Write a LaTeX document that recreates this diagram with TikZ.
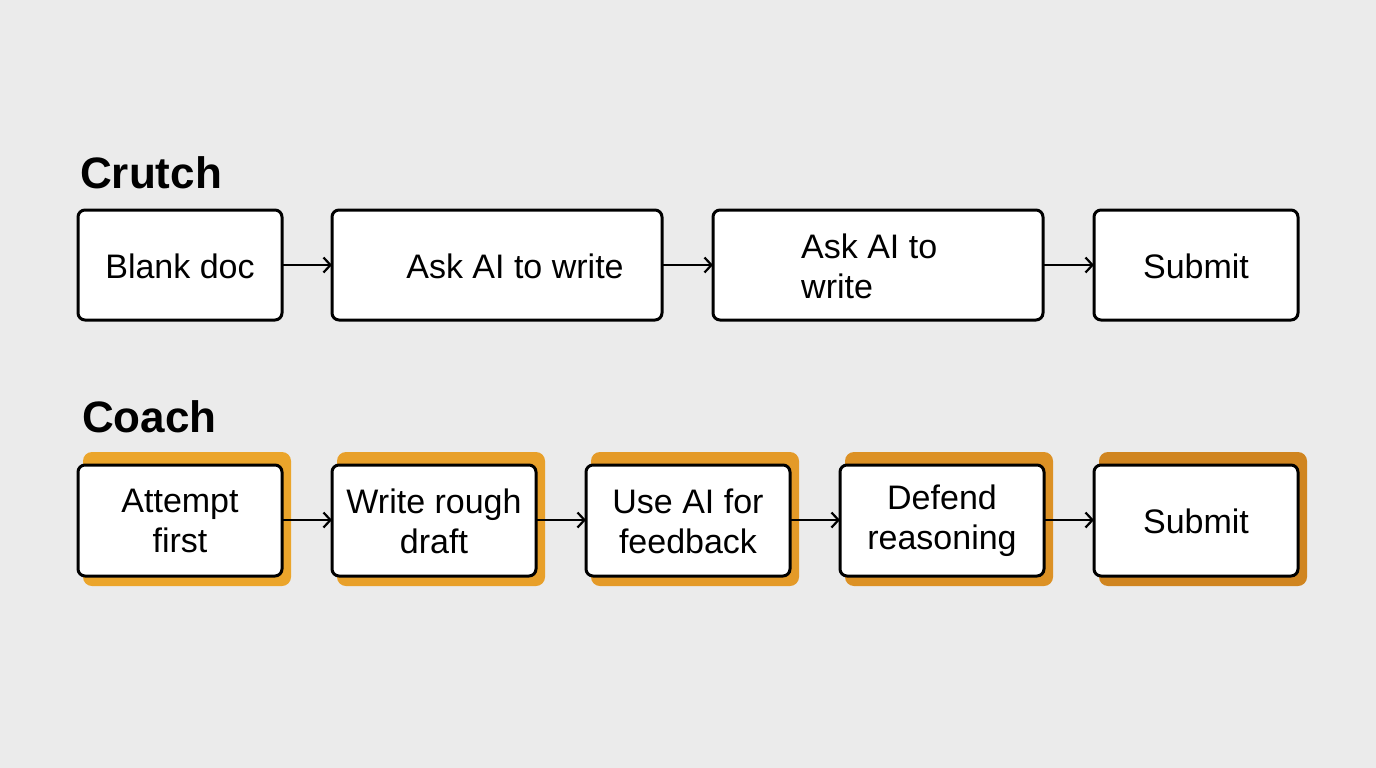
\documentclass[tikz,border=0pt]{standalone}
\usepackage{fontspec}
\setmainfont{Liberation Sans}
\usetikzlibrary{arrows.meta}
\definecolor{bg}{HTML}{EBEBEB}
\definecolor{o1}{HTML}{EBA52B}
\definecolor{o2}{HTML}{E8A02A}
\definecolor{o3}{HTML}{E49A28}
\definecolor{o4}{HTML}{DC9125}
\definecolor{o5}{HTML}{D08520}
\tikzset{
  box/.style={draw=black, line width=3pt, rounded corners=7pt, fill=white, inner sep=0pt},
  back/.style={rounded corners=9pt},
  lbl/.style={font=\fontsize{34}{40}\selectfont, align=center, inner sep=0pt},
  head/.style={font=\fontsize{44}{50}\selectfont\bfseries, anchor=base west, inner sep=0pt},
  conn/.style={line width=2.2pt, -{Straight Barb[length=7pt,width=15pt,line width=2.2pt]}}
}
\begin{document}
\begin{tikzpicture}[x=1pt,y=-1pt]
\fill[bg] (0,0) rectangle (1376,768);
\useasboundingbox (0,0) rectangle (1376,768);

\node[head] (h1) at (80,188) {Crutch};
\node[head] (h2) at (82,432) {Coach};

% Crutch row
\draw[box] (78,210) rectangle (282,320); \coordinate (a1l) at (78,265); \coordinate (a1r) at (282,265);
\draw[box] (332,210) rectangle (662,320); \coordinate (a2l) at (332,265); \coordinate (a2r) at (662,265);
\draw[box] (713,210) rectangle (1043,320); \coordinate (a3l) at (713,265); \coordinate (a3r) at (1043,265);
\draw[box] (1094,210) rectangle (1298,320); \coordinate (a4l) at (1094,265);
\node[lbl] (t1) at (180,266) {Blank doc};
\node[lbl] (t2) at (515,266) {Ask AI to write};
\node[lbl, align=left, anchor=west] (t3) at (801,266) {Ask AI to\\write};
\node[lbl] (t4) at (1196,266) {Submit};
\draw[conn] (a1r) -- (a2l);
\draw[conn] (a2r) -- (a3l);
\draw[conn] (a3r) -- (a4l);

% Coach row
\foreach \x/\c in {78/o1,332/o2,586/o3,840/o4,1094/o5}{
  \fill[\c, back] (\x+5,452) rectangle (\x+213,586);
  \draw[box] (\x,465) rectangle (\x+204,576);
}
\coordinate (b1r) at (282,520); \coordinate (b2l) at (332,520);
\coordinate (b2r) at (536,520); \coordinate (b3l) at (586,520);
\coordinate (b3r) at (790,520); \coordinate (b4l) at (840,520);
\coordinate (b4r) at (1044,520); \coordinate (b5l) at (1094,520);
\node[lbl] (c1) at (180,521) {Attempt\\first};
\node[lbl] (c2) at (434,521) {Write rough\\draft};
\node[lbl] (c3) at (688,521) {Use AI for\\feedback};
\node[lbl] (c4) at (942,521) {Defend\\reasoning};
\node[lbl] (c5) at (1196,521) {Submit};
\draw[conn] (b1r) -- (b2l);
\draw[conn] (b2r) -- (b3l);
\draw[conn] (b3r) -- (b4l);
\draw[conn] (b4r) -- (b5l);
\end{tikzpicture}
\end{document}
